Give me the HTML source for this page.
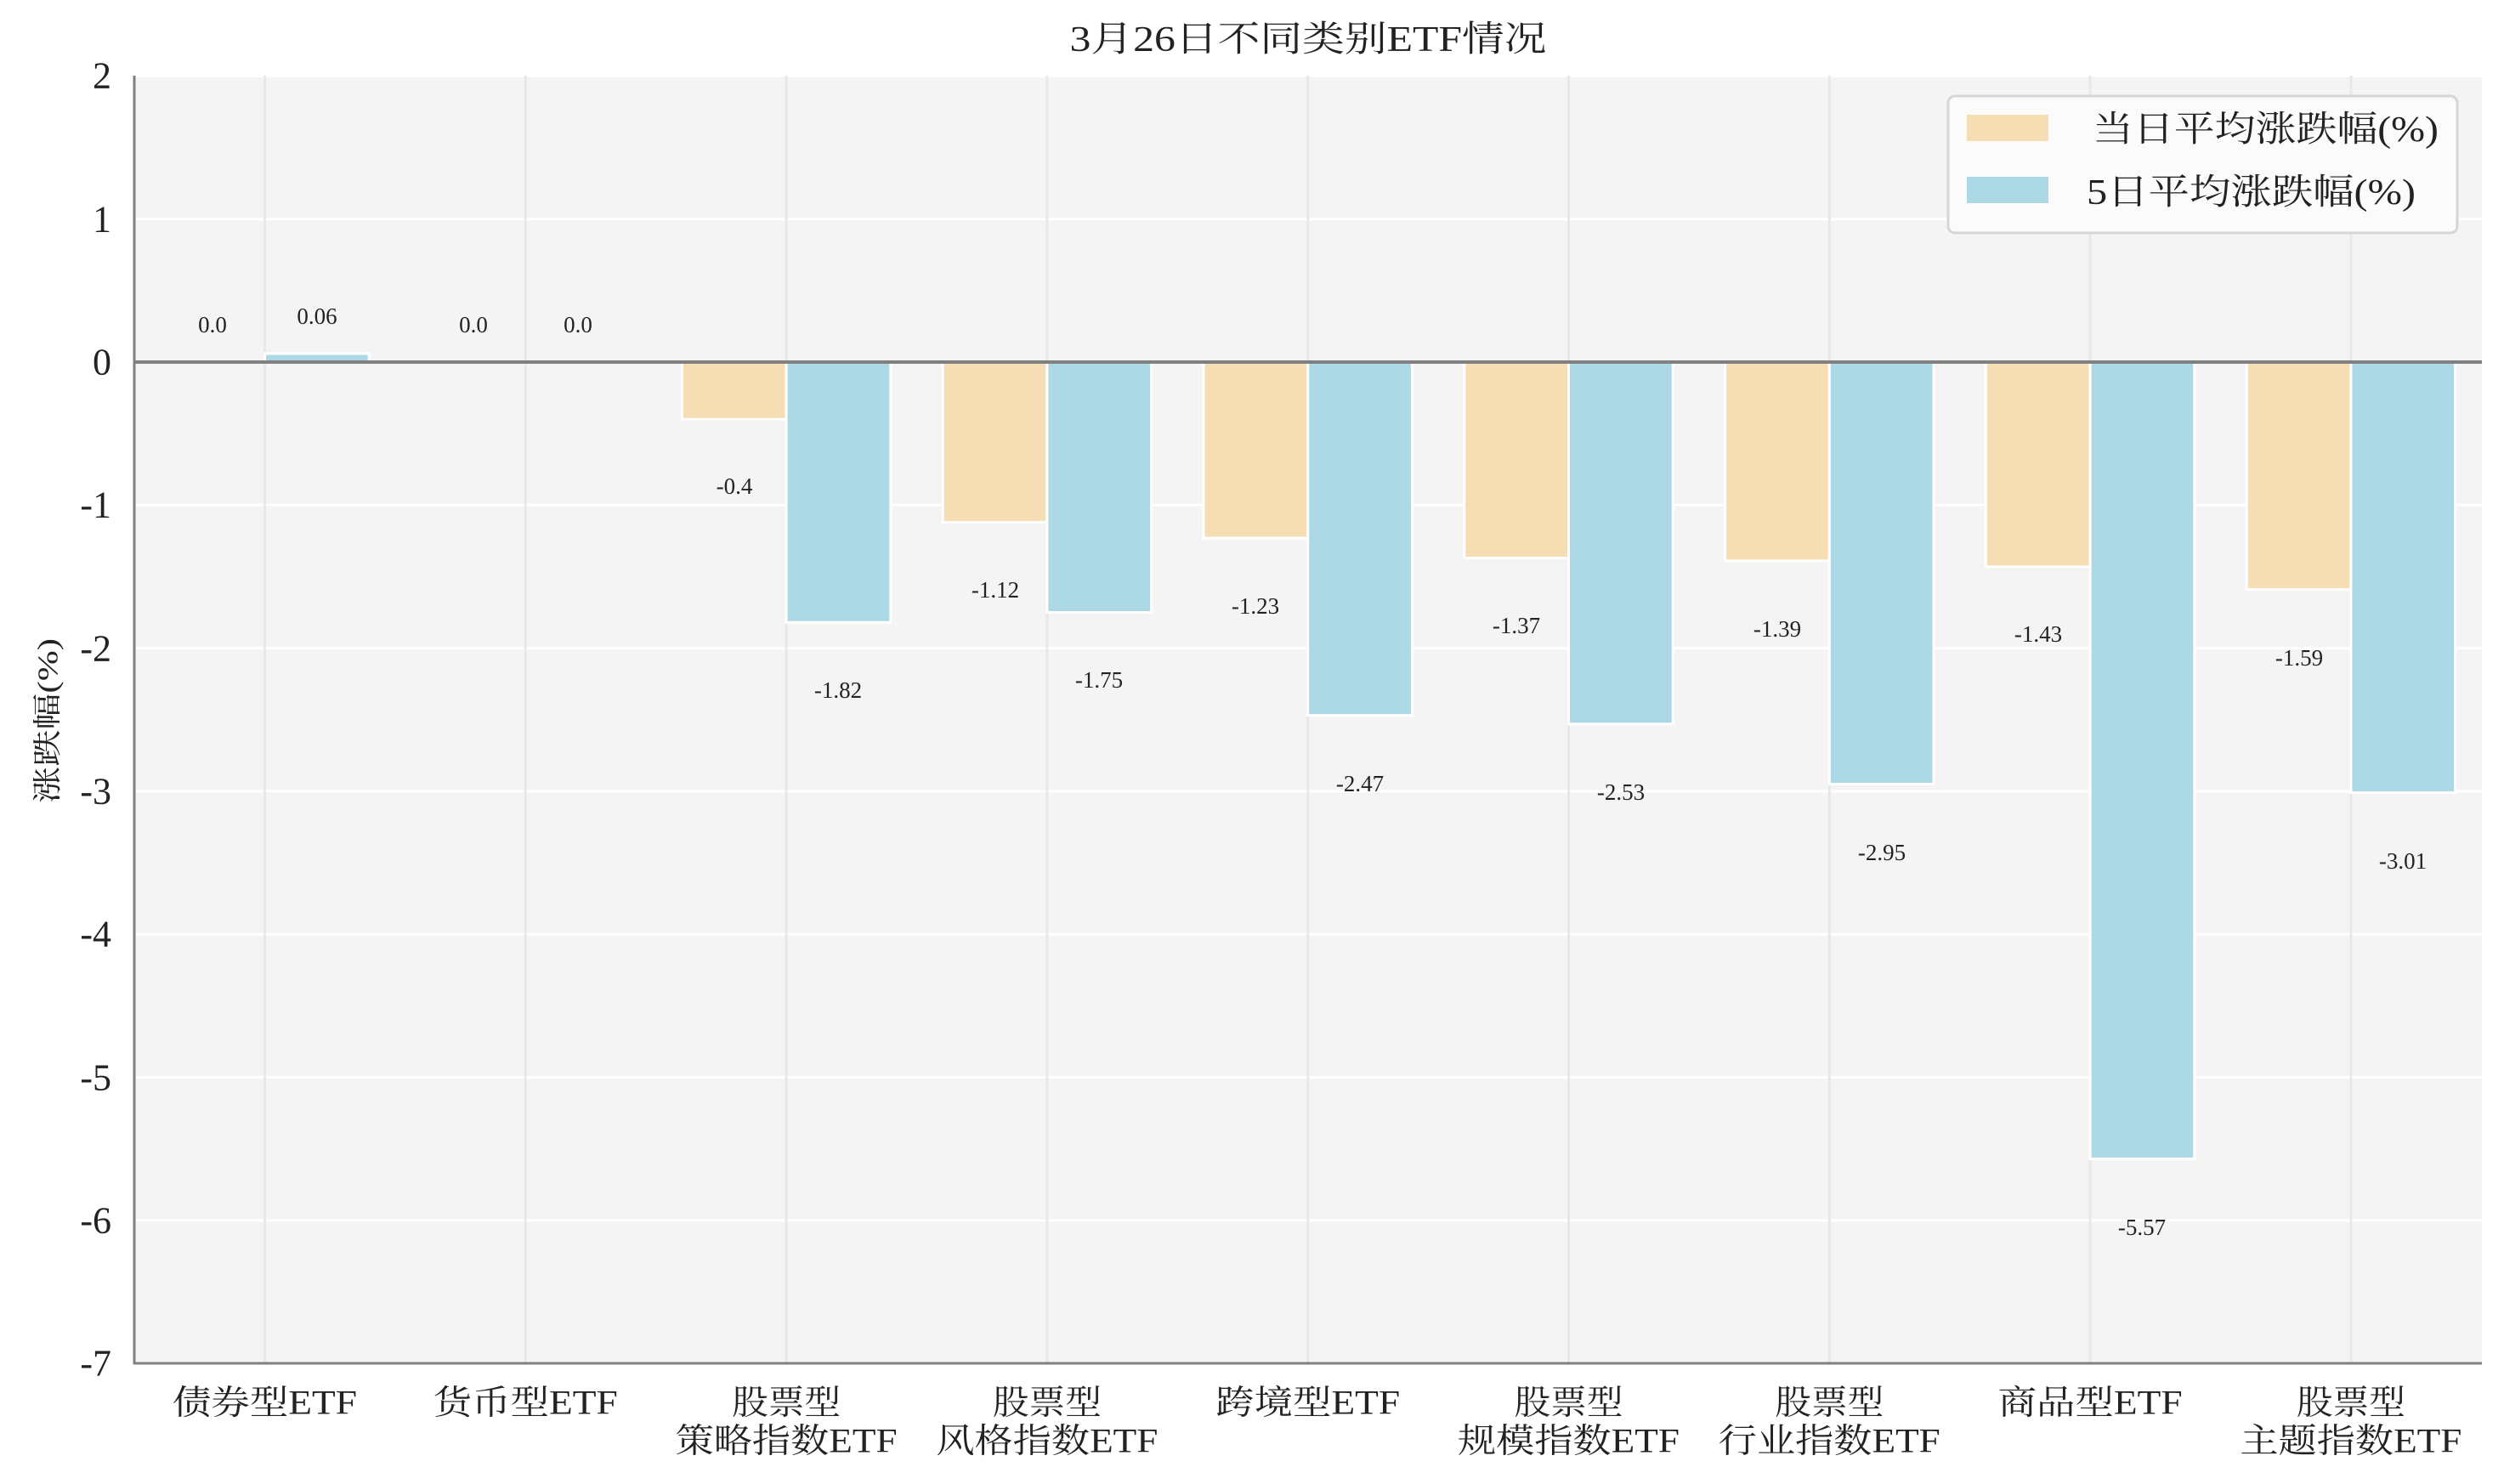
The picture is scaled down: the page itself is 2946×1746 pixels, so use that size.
<!DOCTYPE html>
<html><head><meta charset="utf-8"><style>
html,body{margin:0;padding:0;background:#fff}
svg{display:block}
text{font-family:"Liberation Serif","Noto Serif CJK SC",serif;fill:#222}
</style></head><body>
<svg width="2946" height="1746" viewBox="0 0 2946 1746" xmlns="http://www.w3.org/2000/svg">
<rect x="158" y="89" width="2762" height="1515" fill="#f4f4f4"/>
<g stroke="#fff" stroke-width="3">
<line x1="158" x2="2920" y1="89.4" y2="89.4"/><line x1="158" x2="2920" y1="257.7" y2="257.7"/>
<line x1="158" x2="2920" y1="594.3" y2="594.3"/><line x1="158" x2="2920" y1="762.6" y2="762.6"/>
<line x1="158" x2="2920" y1="930.9" y2="930.9"/><line x1="158" x2="2920" y1="1099.2" y2="1099.2"/>
<line x1="158" x2="2920" y1="1267.5" y2="1267.5"/><line x1="158" x2="2920" y1="1435.8" y2="1435.8"/>
</g>
<g stroke="#e8e8e8" stroke-width="3">
<line x1="311.5" x2="311.5" y1="89" y2="1604"/><line x1="618.3" x2="618.3" y1="89" y2="1604"/>
<line x1="925.1" x2="925.1" y1="89" y2="1604"/><line x1="1231.9" x2="1231.9" y1="89" y2="1604"/>
<line x1="1538.7" x2="1538.7" y1="89" y2="1604"/><line x1="1845.5" x2="1845.5" y1="89" y2="1604"/>
<line x1="2152.3" x2="2152.3" y1="89" y2="1604"/><line x1="2459.1" x2="2459.1" y1="89" y2="1604"/>
<line x1="2765.9" x2="2765.9" y1="89" y2="1604"/>
</g>
<g stroke="#fff" stroke-width="3">
<rect x="311.5" y="416" width="122.7" height="10" fill="#add8e6"/>
<rect x="802.4" y="426" width="122.7" height="67.3" fill="#f5deb3"/>
<rect x="925.1" y="426" width="122.7" height="306.3" fill="#add8e6"/>
<rect x="1109.2" y="426" width="122.7" height="188.5" fill="#f5deb3"/>
<rect x="1231.9" y="426" width="122.7" height="294.5" fill="#add8e6"/>
<rect x="1416" y="426" width="122.7" height="207" fill="#f5deb3"/>
<rect x="1538.7" y="426" width="122.7" height="415.7" fill="#add8e6"/>
<rect x="1722.8" y="426" width="122.7" height="230.6" fill="#f5deb3"/>
<rect x="1845.5" y="426" width="122.7" height="425.8" fill="#add8e6"/>
<rect x="2029.6" y="426" width="122.7" height="233.9" fill="#f5deb3"/>
<rect x="2152.3" y="426" width="122.7" height="496.5" fill="#add8e6"/>
<rect x="2336.4" y="426" width="122.7" height="240.7" fill="#f5deb3"/>
<rect x="2459.1" y="426" width="122.7" height="937.4" fill="#add8e6"/>
<rect x="2643.2" y="426" width="122.7" height="267.6" fill="#f5deb3"/>
<rect x="2765.9" y="426" width="122.7" height="506.6" fill="#add8e6"/>
</g>
<line x1="158" x2="2920" y1="426" y2="426" stroke="#808080" stroke-width="4"/>
<line x1="158" x2="158" y1="89" y2="1605" stroke="#808080" stroke-width="3"/>
<line x1="157" x2="2920" y1="1604" y2="1604" stroke="#808080" stroke-width="3"/>
<g font-size="27" text-anchor="middle" dominant-baseline="central">
<text x="250" y="382">0.0</text><text x="373" y="372">0.06</text>
<text x="557" y="382">0.0</text><text x="680" y="382">0.0</text>
<text x="864" y="572">-0.4</text><text x="986" y="812">-1.82</text>
<text x="1171" y="694">-1.12</text><text x="1293" y="800">-1.75</text>
<text x="1477" y="713">-1.23</text><text x="1600" y="922">-2.47</text>
<text x="1784" y="736">-1.37</text><text x="1907" y="932">-2.53</text>
<text x="2091" y="740">-1.39</text><text x="2214" y="1003">-2.95</text>
<text x="2398" y="746">-1.43</text><text x="2520" y="1444">-5.57</text>
<text x="2705" y="774">-1.59</text><text x="2827" y="1013">-3.01</text>
</g>
<g font-size="44" text-anchor="end" dominant-baseline="central">
<text x="131" y="89">2</text><text x="131" y="258">1</text><text x="131" y="426">0</text>
<text x="131" y="594">-1</text><text x="131" y="763">-2</text><text x="131" y="931">-3</text>
<text x="131" y="1099">-4</text><text x="131" y="1268">-5</text><text x="131" y="1436">-6</text>
<text x="131" y="1604">-7</text>
</g>
<g font-size="40" text-anchor="middle" dominant-baseline="central">
<text x="311.5" y="1650" textLength="217" lengthAdjust="spacingAndGlyphs">债券型ETF</text>
<text x="618.3" y="1650" textLength="217" lengthAdjust="spacingAndGlyphs">货币型ETF</text>
<text x="925.1" y="1650" textLength="128" lengthAdjust="spacingAndGlyphs">股票型</text>
<text x="925.1" y="1695" textLength="261" lengthAdjust="spacingAndGlyphs">策略指数ETF</text>
<text x="1231.9" y="1650" textLength="128" lengthAdjust="spacingAndGlyphs">股票型</text>
<text x="1231.9" y="1695" textLength="261" lengthAdjust="spacingAndGlyphs">风格指数ETF</text>
<text x="1538.7" y="1650" textLength="217" lengthAdjust="spacingAndGlyphs">跨境型ETF</text>
<text x="1845.5" y="1650" textLength="128" lengthAdjust="spacingAndGlyphs">股票型</text>
<text x="1845.5" y="1695" textLength="261" lengthAdjust="spacingAndGlyphs">规模指数ETF</text>
<text x="2152.3" y="1650" textLength="128" lengthAdjust="spacingAndGlyphs">股票型</text>
<text x="2152.3" y="1695" textLength="261" lengthAdjust="spacingAndGlyphs">行业指数ETF</text>
<text x="2459.1" y="1650" textLength="217" lengthAdjust="spacingAndGlyphs">商品型ETF</text>
<text x="2765.9" y="1650" textLength="128" lengthAdjust="spacingAndGlyphs">股票型</text>
<text x="2765.9" y="1695" textLength="261" lengthAdjust="spacingAndGlyphs">主题指数ETF</text>
</g>
<text x="1539" y="47" font-size="42" text-anchor="middle" dominant-baseline="central" textLength="561" lengthAdjust="spacingAndGlyphs">3月26日不同类别ETF情况</text>
<text transform="translate(57,848) rotate(-90)" font-size="34" text-anchor="middle" dominant-baseline="central" textLength="194" lengthAdjust="spacingAndGlyphs">涨跌幅(%)</text>
<rect x="2292" y="113" width="599" height="161" rx="8" fill="#fbfbfb" stroke="#d6d6d6" stroke-width="3"/>
<rect x="2314" y="135" width="96" height="31" fill="#f5deb3"/>
<rect x="2314" y="208" width="96" height="31" fill="#add8e6"/>
<text x="2462" y="153" font-size="42" dominant-baseline="central" textLength="407" lengthAdjust="spacingAndGlyphs">当日平均涨跌幅(%)</text>
<text x="2455" y="227" font-size="42" dominant-baseline="central" textLength="387" lengthAdjust="spacingAndGlyphs">5日平均涨跌幅(%)</text>
</svg>
</body></html>
